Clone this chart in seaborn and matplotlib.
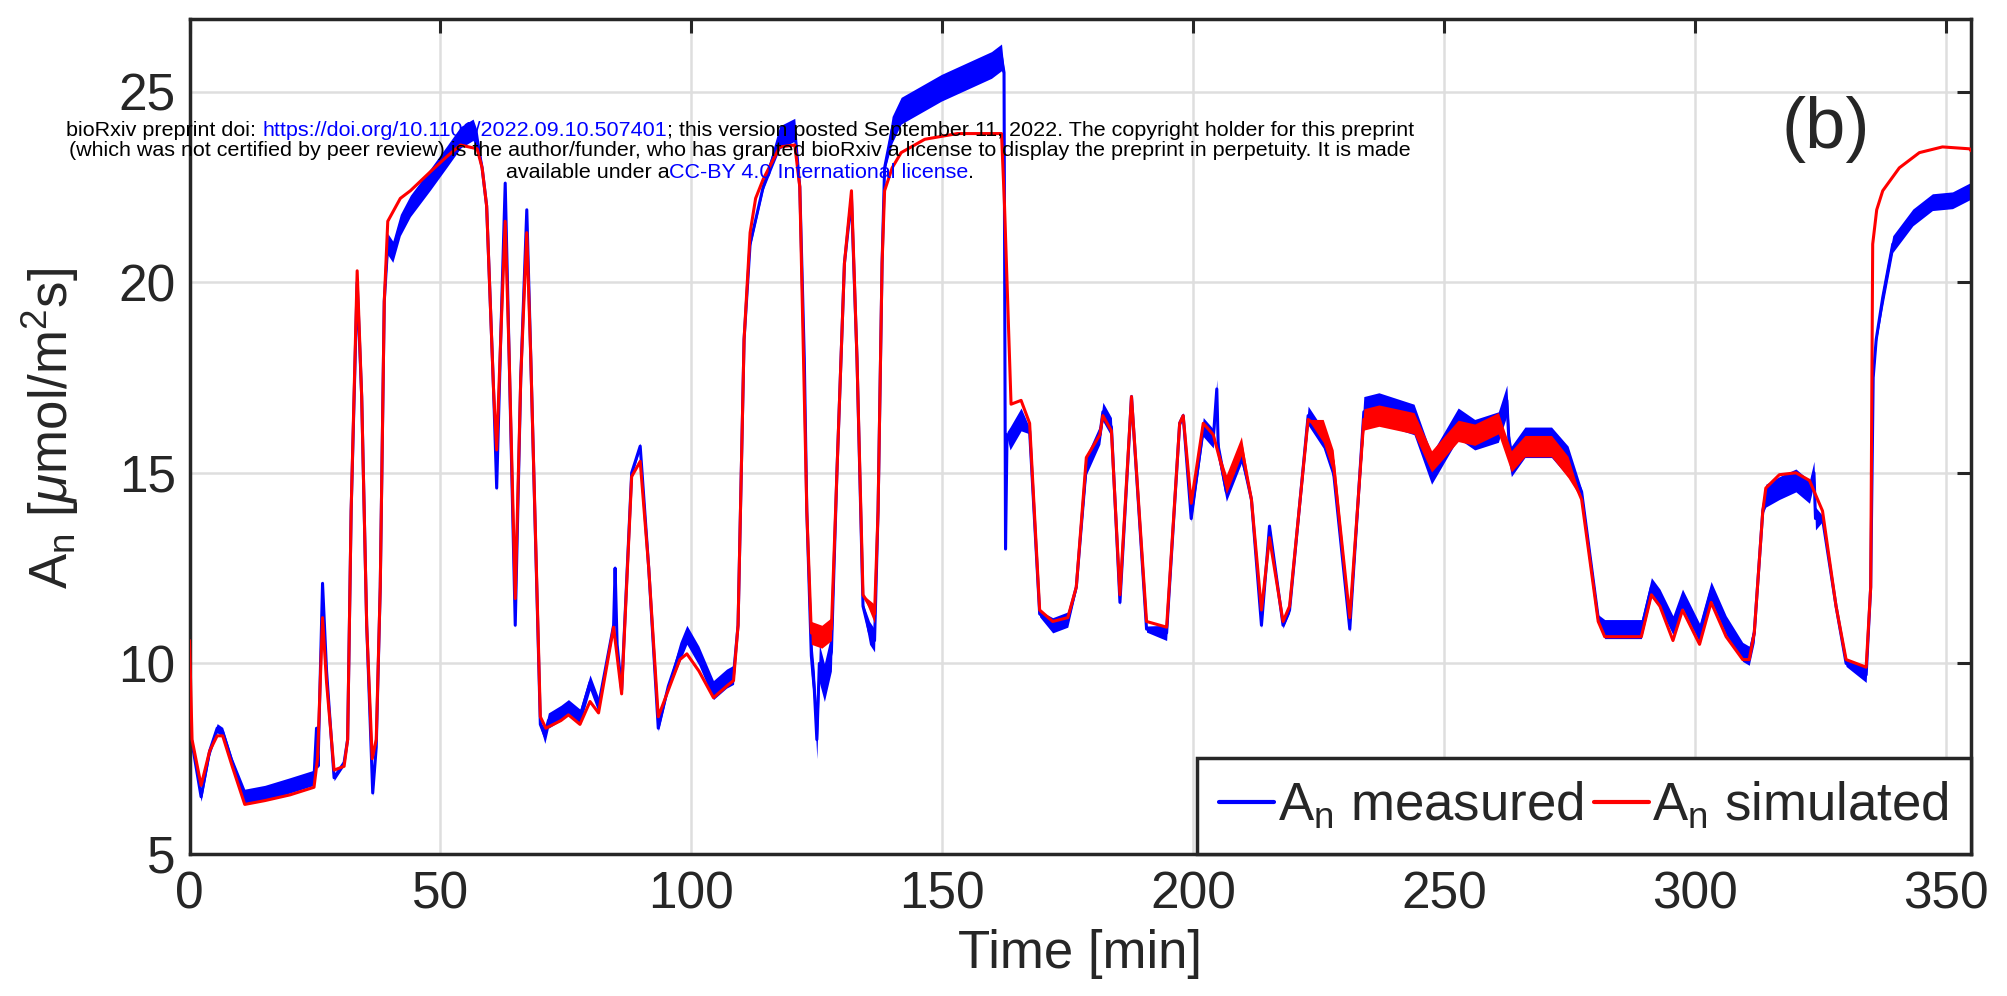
import numpy as np
import pandas as pd
import seaborn as sns
import matplotlib.pyplot as plt
from matplotlib import font_manager

BLUE = '#0000ff'
RED = '#ff0000'
INK = '#262626'

# simulated An (red), knots
sim_t = [0.0, 0.5, 2.3, 4.0, 5.5, 6.6, 8.5, 11.0, 15.0, 20.0, 24.8, 25.5, 26.5, 27.3, 28.8,
         30.8, 31.5, 32.2, 33.4, 34.3, 35.3, 36.4, 37.2, 38.0, 38.8, 39.5, 42.0, 44.0, 48.0,
         51.3, 54.0, 57.3, 58.3, 59.2, 60.6, 61.2, 62.0, 62.9, 63.7, 64.9, 66.0, 67.2, 68.0,
         69.9, 71.0, 74.0, 75.5, 77.8, 79.8, 81.5, 84.5, 86.1, 88.1, 89.8, 91.5, 93.4, 95.4,
         97.7, 99.1, 101.5, 104.4, 107.0, 108.4, 109.3, 110.5, 111.7, 112.8, 114.3, 117.6, 120.6,
         121.6, 123.0, 123.9, 126.0, 127.9, 129.0, 130.5, 131.9, 133.0, 134.2, 136.5, 137.2,
         138.0, 138.5, 140.0, 141.8, 146.5, 153.0, 161.8, 162.4, 163.1, 163.7, 165.7, 167.4, 169.4,
         172.0, 175.0, 176.7, 178.7, 181.4, 182.0, 183.7, 185.4, 187.7, 190.7, 194.7, 197.3,
         198.0, 199.6, 202.0, 204.0, 206.6, 209.6, 211.6, 213.6, 215.2, 217.9, 219.2, 222.9,
         225.9, 227.9, 231.2, 234.0, 237.0, 244.0, 247.5, 252.8, 256.1, 260.8, 263.4, 266.1,
         271.4, 274.7, 277.4, 280.7, 282.0, 289.3, 291.3, 293.0, 295.6, 297.5, 300.9, 303.2,
         306.2, 309.5, 310.8, 311.8, 313.5, 314.1, 316.8, 320.1, 322.8, 325.4, 328.1, 330.1,
         334.1, 335.0, 335.4, 336.2, 337.4, 340.7, 344.7, 349.3, 354.7, 355.0]
sim_y = [10.6, 8.0, 6.8, 7.7, 8.1, 8.1, 7.3, 6.3, 6.4, 6.55, 6.75, 7.5, 11.2, 9.5, 7.2,
         7.3, 8.0, 14.0, 20.3, 17.0, 11.0, 7.5, 8.0, 12.0, 19.5, 21.6, 22.2, 22.4, 22.9,
         23.3, 23.6, 23.5, 23.0, 22.0, 17.1, 15.6, 18.5, 21.6, 18.0, 11.7, 17.5, 21.3, 18.0,
         8.6, 8.3, 8.5, 8.65, 8.4, 9.0, 8.7, 10.95, 9.2, 14.9, 15.3, 12.5, 8.6, 9.3,
         10.1, 10.25, 9.8, 9.1, 9.4, 9.55, 11.0, 18.5, 21.3, 22.2, 22.7, 23.55, 23.6,
         22.5, 14.0, 10.8, 10.7, 10.9, 15.0, 20.5, 22.4, 18.0, 11.8, 11.3, 14.0,
         20.5, 22.4, 23.0, 23.4, 23.75, 23.9, 23.9, 22.0, 19.2, 16.8, 16.9, 16.3, 11.4,
         11.1, 11.2, 12.0, 15.4, 16.0, 16.5, 16.1, 11.8, 17.0, 11.1, 10.95, 16.3,
         16.5, 14.2, 16.3, 16.0, 14.7, 15.7, 14.3, 11.4, 13.3, 11.1, 11.5, 16.4,
         16.1, 15.3, 11.2, 16.4, 16.5, 16.3, 15.3, 16.1, 16.0, 16.3, 15.3, 15.7,
         15.7, 15.15, 14.3, 11.1, 10.7, 10.7, 11.8, 11.5, 10.6, 11.4, 10.5, 11.6,
         10.7, 10.1, 10.1, 10.8, 14.0, 14.6, 14.95, 15.0, 14.8, 14.0, 11.5, 10.1,
         9.9, 12.0, 21.0, 21.9, 22.4, 23.0, 23.4, 23.55, 23.5, 23.45]

# measured An (blue), knots
meas_t = [0.0, 2.3, 4.0, 5.5, 6.6, 8.5, 11.0, 15.0, 20.0, 24.8, 25.3, 25.6, 26.5, 27.3, 28.8,
          30.8, 31.5, 32.2, 33.4, 34.3, 35.3, 36.5, 37.2, 38.0, 38.8, 39.5, 40.5, 42.0, 44.0,
          48.0, 51.3, 54.0, 56.5, 57.3, 58.3, 59.2, 60.6, 61.2, 62.0, 62.9, 63.7, 64.9, 66.0,
          67.2, 68.0, 69.9, 70.8, 71.5, 74.0, 75.5, 77.8, 79.8, 81.5, 84.5, 84.8, 85.2, 86.1,
          88.1, 89.8, 91.5, 93.4, 95.4, 97.7, 99.1, 101.5, 104.4, 107.0, 108.4, 109.3, 110.5,
          111.7, 114.3, 117.6, 120.6, 121.6, 122.5, 123.0, 123.9, 124.5, 125.0, 125.5, 126.5,
          127.9, 129.0, 130.5, 131.9, 133.0, 134.2, 135.5, 136.5, 137.2, 138.0, 138.5, 140.0,
          141.8, 149.8, 159.8, 161.8, 162.3, 162.6, 162.9, 163.5, 165.7, 167.4, 169.4, 172.0,
          175.0, 176.7, 178.7, 181.4, 182.0, 183.7, 185.4, 187.7, 190.7, 194.7, 197.3, 198.0,
          199.6, 202.0, 204.0, 204.7, 205.0, 206.6, 209.6, 211.6, 213.6, 215.2, 217.9, 219.2,
          222.9, 225.9, 227.9, 231.2, 234.0, 237.0, 244.0, 247.5, 252.8, 256.1, 260.8, 262.5,
          263.0, 263.4, 266.1, 271.4, 274.7, 277.4, 280.7, 282.0, 289.3, 291.3, 293.0, 295.6,
          297.5, 300.9, 303.2, 306.2, 309.5, 310.8, 311.8, 313.5, 314.1, 316.8, 320.1, 322.8,
          323.7, 324.0, 325.4, 328.1, 330.1, 334.1, 335.0, 335.5, 336.1, 337.4, 339.4, 343.4,
          347.3, 351.3, 355.0]
meas_y = [8.3, 6.5, 7.7, 8.3, 8.2, 7.4, 6.5, 6.6, 6.8, 7.0, 8.3, 7.3, 12.1, 9.8, 7.0,
          7.4, 8.0, 14.0, 20.0, 17.0, 11.0, 6.6, 7.8, 12.0, 19.5, 21.0, 20.8, 21.5, 22.0,
          22.7, 23.3, 23.8, 24.0, 23.7, 23.0, 22.0, 17.1, 14.6, 18.5, 22.6, 18.0, 11.0, 17.5,
          21.9, 18.0, 8.4, 8.1, 8.5, 8.7, 8.85, 8.6, 9.5, 8.9, 11.0, 12.5, 10.5, 9.3,
          15.0, 15.7, 12.5, 8.3, 9.4, 10.3, 10.75, 10.2, 9.3, 9.6, 9.7, 11.0, 18.5,
          21.0, 22.5, 23.8, 24.0, 22.5, 18.0, 14.0, 10.2, 9.3, 8.0, 10.0, 9.5,
          10.3, 15.0, 20.5, 22.2, 18.0, 11.5, 10.8, 10.6, 14.0, 20.5, 23.0, 24.0,
          24.5, 25.1, 25.7, 25.9, 25.5, 13.0, 16.0, 15.9, 16.4, 16.1, 11.3, 11.0,
          11.15, 12.0, 15.2, 16.0, 16.6, 16.2, 11.6, 17.0, 10.9, 10.8, 16.3, 16.5,
          13.8, 16.2, 15.9, 17.2, 15.6, 14.5, 15.5, 14.3, 11.0, 13.6, 11.0, 11.4,
          16.5, 15.9, 15.1, 10.9, 16.6, 16.7, 16.4, 15.1, 16.3, 16.0, 16.2, 16.9,
          15.6, 15.3, 15.8, 15.8, 15.3, 14.5, 11.2, 10.9, 10.9, 12.0, 11.7, 11.0,
          11.7, 10.8, 11.9, 11.0, 10.3, 10.2, 10.8, 14.0, 14.4, 14.6, 14.8, 14.5,
          15.0, 13.8, 13.8, 11.5, 10.0, 9.7, 12.0, 17.5, 18.5, 19.6, 21.0, 21.7,
          22.1, 22.15, 22.4]

# width of the noise band (half width) over stretches of time
meas_noise_from = [0, 11, 39.5, 70, 97, 117, 123.5, 134.5, 139, 163, 170, 178, 191, 201, 222, 234, 281, 314, 331, 337]
meas_noise_to = [11, 25, 58, 82, 109, 121, 128, 137, 162, 166, 175, 184, 195, 210, 228, 277, 312, 325, 335, 355]
meas_noise_amp = [0.12, 0.2, 0.28, 0.2, 0.25, 0.3, 0.5, 0.3, 0.35, 0.3, 0.2, 0.25, 0.2, 0.25, 0.25, 0.4, 0.25, 0.3, 0.2, 0.22]
sim_noise_from = [123.5, 134.5, 206, 224, 234]
sim_noise_to = [128, 137, 211, 228, 276]
sim_noise_amp = [0.3, 0.25, 0.25, 0.3, 0.28]

x_ticks = [0, 50, 100, 150, 200, 250, 300, 350]
y_ticks = [5, 10, 15, 20, 25]

watermark = [
    [("bioRxiv preprint doi: ", 'black'), ("https://doi.org/10.1101/2022.09.10.507401", BLUE),
     ("; this version posted September 11, 2022. The copyright holder for this preprint", 'black')],
    [("(which was not certified by peer review) is the author/funder, who has granted bioRxiv "
      "a license to display the preprint in perpetuity. It is made", 'black')],
    [("available under a", 'black'), ("CC-BY 4.0 International license", BLUE), (".", 'black')],
]


def band(t, seg_from, seg_to, amp, base):
    t = np.asarray(t, dtype=float)
    s = np.full(len(t), base)
    for a, b, h in zip(seg_from, seg_to, amp):
        s[(t >= a) & (t <= b)] = h
    return s


sns.set_style('white')
names = {f.name for f in font_manager.fontManager.ttflist}
FONT = 'Liberation Sans' if 'Liberation Sans' in names else 'DejaVu Sans'
plt.rcParams['font.family'] = [FONT, 'DejaVu Sans']
plt.rcParams['mathtext.fontset'] = 'custom'
plt.rcParams['mathtext.rm'] = FONT
plt.rcParams['mathtext.it'] = FONT + ':italic'
plt.rcParams['mathtext.bf'] = FONT + ':bold'

fig = plt.figure(figsize=(20.08, 9.96), dpi=100)
ax = fig.add_axes([0.0944, 0.1426, 0.8872, 0.8381])

meas = pd.DataFrame({'t': meas_t, 'y': meas_y})
sim = pd.DataFrame({'t': sim_t, 'y': sim_y})
m_s = band(meas_t, meas_noise_from, meas_noise_to, meas_noise_amp, 0.08)
s_s = band(sim_t, sim_noise_from, sim_noise_to, sim_noise_amp, 0.0)

ax.fill_between(meas['t'], meas['y'] - m_s, meas['y'] + m_s, color=BLUE, lw=0, zorder=2)
sns.lineplot(data=meas, x='t', y='y', color=BLUE, lw=2.2, sort=False, estimator=None,
             label=r'A$_\mathrm{n}$ measured', ax=ax, zorder=2.1)
ax.fill_between(sim['t'], sim['y'] - s_s, sim['y'] + s_s, color=RED, lw=0, zorder=3)
sns.lineplot(data=sim, x='t', y='y', color=RED, lw=2.2, sort=False, estimator=None,
             label=r'A$_\mathrm{n}$ simulated', ax=ax, zorder=3.1)

ax.set_xlim(0, 355)
ax.set_ylim(5, 26.9)
ax.set_xticks(x_ticks)
ax.set_yticks(y_ticks)
ax.grid(True, color='#dedede', lw=1.8)
ax.set_axisbelow(True)
ax.tick_params(axis='both', direction='in', length=10, width=2.2, colors=INK,
               labelsize=37, top=True, right=True)
ax.tick_params(axis='x', pad=12)
ax.tick_params(axis='y', pad=10)
for sp in ax.spines.values():
    sp.set_visible(True)
    sp.set_color(INK)
    sp.set_linewidth(2.5)

ax.set_xlabel('Time [min]', fontsize=38, color=INK)
ax.set_ylabel(r'A$_\mathrm{n}$ [$\mu$mol/m$^\mathrm{2}$s]', fontsize=38, color=INK)
ax.xaxis.set_label_coords(0.5, -0.12)
ax.xaxis.label.set_va('center')
ax.yaxis.set_label_coords(-0.078, 0.51)
ax.yaxis.label.set_va('center')

ax.text(326, 24.0, '(b)', fontsize=52, ha='center', va='center', color=INK)

h, l = ax.get_legend_handles_labels()
leg = ax.legend(h, l, loc='lower right', bbox_to_anchor=(1, 0), borderaxespad=0, ncol=2,
                fontsize=38, handlelength=1.05, handletextpad=0.06, columnspacing=0.2,
                borderpad=0.42, frameon=True, fancybox=False, framealpha=1, edgecolor=INK)
leg.get_frame().set_linewidth(2.5)
for line in leg.get_lines():
    line.set_linewidth(3)

# bioRxiv stamp, centred lines with coloured pieces
line_y = [1 - 131 / 996, 1 - 151 / 996, 1 - 172 / 996]
stamp = []
for y, parts in zip(line_y, watermark):
    prev = None
    pieces = []
    for s, c in parts:
        if prev is None:
            t = fig.text(0.37, y, s, color=c, fontsize=10, ha='left', va='center', zorder=10)
        else:
            t = ax.annotate(s, xy=(1, 0), xycoords=prev, va='bottom', ha='left', color=c,
                            fontsize=10, annotation_clip=False, zorder=10)
        pieces.append(t)
        prev = t
    stamp.append(pieces)

fig.canvas.draw()
r = fig.canvas.get_renderer()
w0 = stamp[0][-1].get_window_extent(r).x1 - stamp[0][0].get_window_extent(r).x0
size = 10 * 1346 / w0
for pieces in stamp:
    for t in pieces:
        t.set_fontsize(size)
fig.canvas.draw()
for pieces in stamp:
    x0 = pieces[0].get_window_extent(r).x0
    x1 = pieces[-1].get_window_extent(r).x1
    pieces[0].set_x((740 - (x1 - x0) / 2) / 2008)

fig.savefig('out.png', dpi=100)
